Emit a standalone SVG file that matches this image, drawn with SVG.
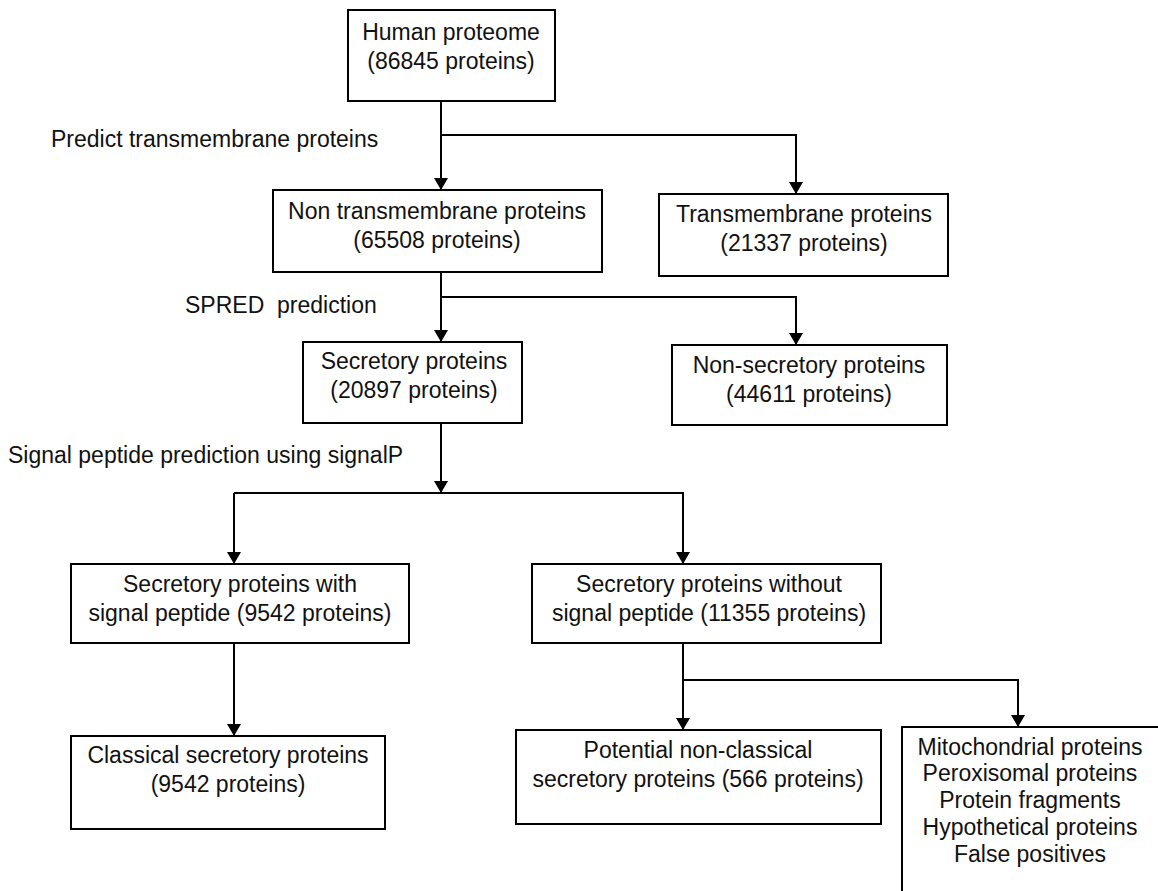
<svg xmlns="http://www.w3.org/2000/svg" width="1158" height="891" viewBox="0 0 1158 891">
<style>
.box{fill:#fff;stroke:#000;stroke-width:2}
.t{font-family:"Liberation Sans",Arial,sans-serif;font-size:23px;fill:#111;text-anchor:middle}
.l{font-family:"Liberation Sans",Arial,sans-serif;font-size:23px;fill:#111}
.c{fill:none;stroke:#000;stroke-width:2}
</style>
<defs>
<marker id="ah" markerWidth="12" markerHeight="14" refX="12" refY="7" orient="auto" markerUnits="userSpaceOnUse">
<path d="M0,0 L12,7 L0,14 Z" fill="#000"/>
</marker>
</defs>
<rect width="1158" height="891" fill="#fff"/>
<g id="connectors">
<path class="c" d="M441,101 V190" marker-end="url(#ah)"/>
<path class="c" d="M441,135 H796 V194" marker-end="url(#ah)"/>
<path class="c" d="M441,272 V342" marker-end="url(#ah)"/>
<path class="c" d="M441,297 H796 V345" marker-end="url(#ah)"/>
<path class="c" d="M441,423 V493" marker-end="url(#ah)"/>
<path class="c" d="M234,493 H683 V564" marker-end="url(#ah)"/>
<path class="c" d="M234,493 V564" marker-end="url(#ah)"/>
<path class="c" d="M234,643 V736" marker-end="url(#ah)"/>
<path class="c" d="M683,643 V730" marker-end="url(#ah)"/>
<path class="c" d="M683,680 H1018 V727" marker-end="url(#ah)"/>
</g>
<g id="labels">
<text class="l" x="51" y="147">Predict transmembrane proteins</text>
<text class="l" x="185" y="313">SPRED&#160; prediction</text>
<text class="l" x="8" y="463">Signal peptide prediction using signalP</text>
</g>
<g id="n1"><rect class="box" x="348" y="10" width="207" height="91"/>
<text class="t" x="451" y="40">Human proteome</text><text class="t" x="451" y="69">(86845 proteins)</text></g>
<g id="n2"><rect class="box" x="273" y="190" width="329" height="82"/>
<text class="t" x="437" y="219">Non transmembrane proteins</text><text class="t" x="437" y="248">(65508 proteins)</text></g>
<g id="n3"><rect class="box" x="659" y="194" width="289" height="82"/>
<text class="t" x="804" y="222">Transmembrane proteins</text><text class="t" x="804" y="251">(21337 proteins)</text></g>
<g id="n4"><rect class="box" x="303" y="342" width="219" height="81"/>
<text class="t" x="414" y="369">Secretory proteins</text><text class="t" x="414" y="398">(20897 proteins)</text></g>
<g id="n5"><rect class="box" x="672" y="345" width="275" height="80"/>
<text class="t" x="809" y="373">Non-secretory proteins</text><text class="t" x="809" y="402">(44611 proteins)</text></g>
<g id="n6"><rect class="box" x="71" y="564" width="338" height="79"/>
<text class="t" x="240" y="592">Secretory proteins with</text><text class="t" x="240" y="621">signal peptide (9542 proteins)</text></g>
<g id="n7"><rect class="box" x="532" y="564" width="349" height="79"/>
<text class="t" x="709" y="592">Secretory proteins without</text><text class="t" x="709" y="621">signal peptide (11355 proteins)</text></g>
<g id="n8"><rect class="box" x="71" y="736" width="314" height="93"/>
<text class="t" x="228" y="763">Classical secretory proteins</text><text class="t" x="228" y="792">(9542 proteins)</text></g>
<g id="n9"><rect class="box" x="516" y="730" width="365" height="94"/>
<text class="t" x="698" y="758">Potential non-classical</text><text class="t" x="698" y="787">secretory proteins (566 proteins)</text></g>
<g id="n10"><rect class="box" x="902" y="727" width="270" height="180"/>
<text class="t" x="1030" y="755">Mitochondrial proteins</text>
<text class="t" x="1030" y="781">Peroxisomal proteins</text>
<text class="t" x="1030" y="808">Protein fragments</text>
<text class="t" x="1030" y="835">Hypothetical proteins</text>
<text class="t" x="1030" y="862">False positives</text></g>
</svg>
